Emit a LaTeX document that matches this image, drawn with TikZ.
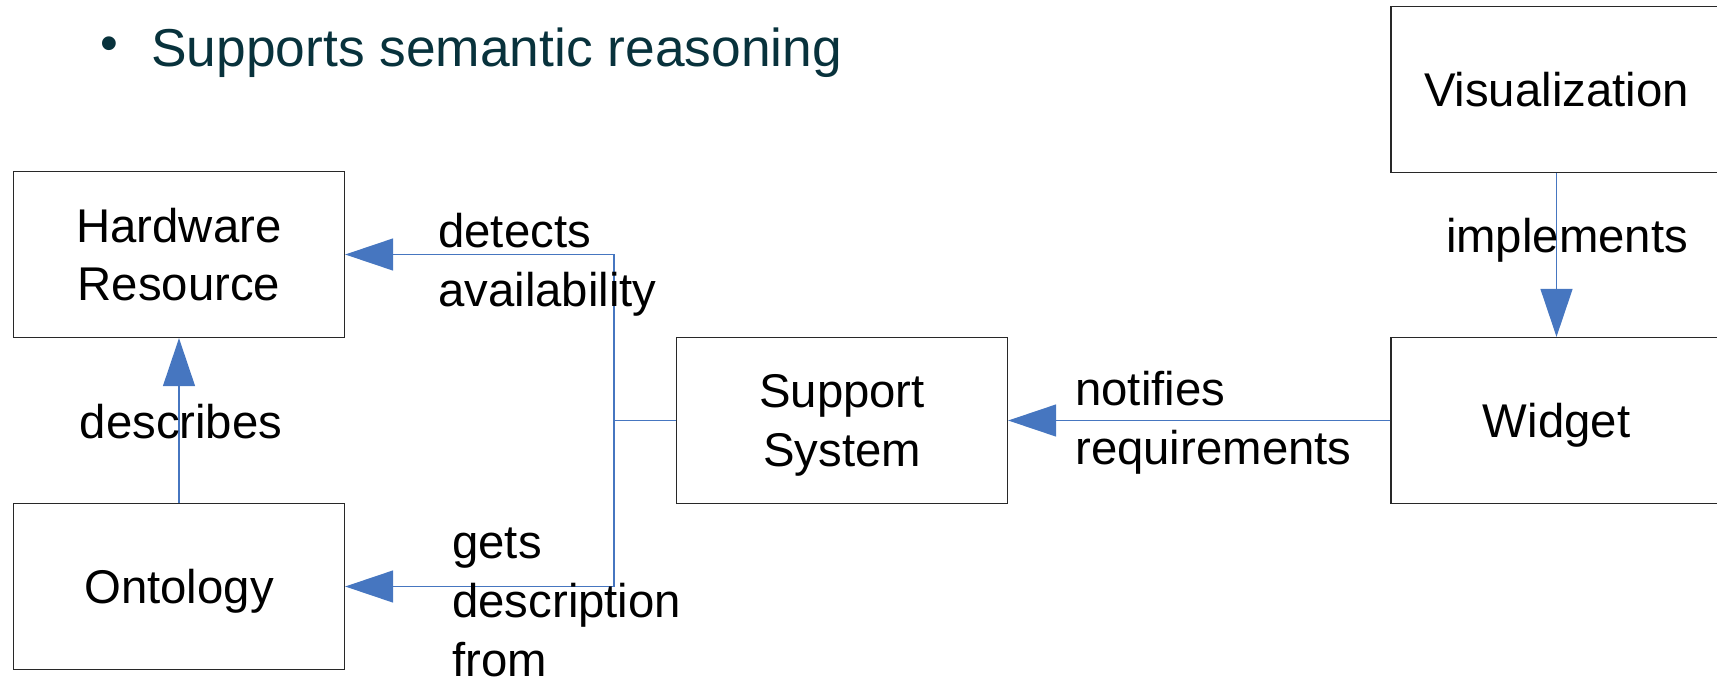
\documentclass[tikz,border=0pt]{standalone}
\usepackage{fontspec}
\setmainfont{Liberation Sans}
\usetikzlibrary{arrows.meta}

\definecolor{linkblue}{RGB}{70,118,192}
\definecolor{headtext}{RGB}{8,50,60}
\definecolor{boxline}{RGB}{40,40,40}

\tikzset{
	block/.style={
		draw=boxline, line width=1pt,
		minimum width=248.25pt, minimum height=124.5pt,
		inner sep=0pt, align=center, text depth=0pt,
		font=\fontsize{35.5}{44}\selectfont},
	link/.style={draw=linkblue, line width=1pt},
	linkto/.style={
		link,
		-{Triangle[length=36pt,width=24pt,fill=linkblue]}},
	lbl/.style={inner sep=0pt, align=left, font=\fontsize{35.5}{44}\selectfont}
}

\begin{document}
\begin{tikzpicture}[x=0.75pt,y=0.75pt,yscale=-1,xscale=1]
\clip (0,0) rectangle (1717,682);

% heading
\node [text=headtext, inner sep=0pt, font=\fontsize{38}{40}\selectfont] (dot) at (109.5,49) {•};
\node [anchor=base west, text=headtext, inner sep=0pt, font=\fontsize{40}{48}\selectfont] (head) at (151,66) {Supports semantic reasoning};

% boxes
\node [block] (hw) at (179,254.5) {Hardware\\Resource};
\node [block] (onto) at (179,586.5) {Ontology};
\node [block] (sup) at (842,420.5) {Support\\System};
\node [block] (wid) at (1556.5,420.5) {Widget};
\node [block] (vis) at (1556.5,89.5) {Visualization};

% connectors
\coordinate (fork) at (614,420.5);
\draw [linkto] (onto) -- (hw);
\draw [link] (sup.west) -- (fork);
\draw [linkto] (fork) |- (hw);
\draw [linkto] (fork) |- (onto);
\draw [linkto] (wid) -- (sup);
\draw [linkto] (vis) -- (wid);

% labels (base = last line)
\node [lbl, anchor=base] (desc) at (181,438) {describes};
\node [lbl, anchor=base west] (detect) at (438,306) {detects\\availability};
\node [lbl, anchor=base west] (gets) at (452,676) {gets\\description\\from};
\node [lbl, anchor=base west] (notify) at (1075,464) {notifies\\requirements};
\node [lbl, anchor=base] (impl) at (1567,252) {implements};

\end{tikzpicture}
\end{document}
